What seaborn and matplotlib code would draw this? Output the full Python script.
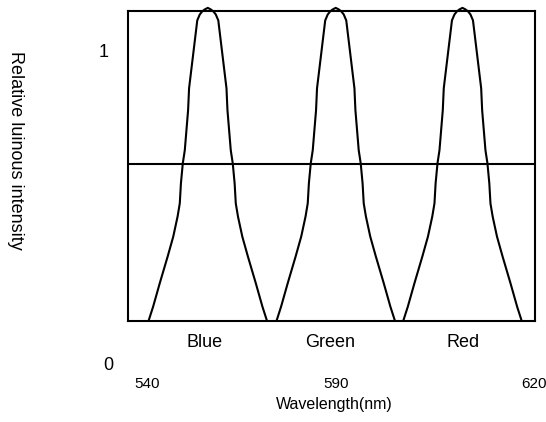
import matplotlib
matplotlib.use("Agg")
import matplotlib.pyplot as plt
import numpy as np
import pandas as pd
import seaborn as sns

# Emission bands: peak centre positions on the horizontal scale (0-100)
bands = ["Blue", "Green", "Red"]
peak_centers = [19.7, 51.1, 82.2]
band_label_pos = [18.8, 49.7, 82.3]

# Shared normalised line shape: relative intensity vs half-width of the band
profile_intensity = [0.0, 0.045, 0.120, 0.205, 0.269, 0.333, 0.375, 0.439, 0.503,
                     0.545, 0.673, 0.743, 0.960, 0.979, 0.989, 0.995, 1.0]
profile_halfwidth = [14.52, 13.41, 11.78, 9.85, 8.47, 7.41, 6.87, 6.59, 6.13,
                     5.64, 4.83, 4.59, 2.58, 1.96, 1.35, 0.74, 0.0]

# Half-maximum reference level
half_max = 0.5

# Wavelength labels and where they sit along the scale
wavelength_labels = ["540", "590", "620"]
wavelength_pos = [4.8, 51.2, 99.8]

# Intensity scale labels
intensity_labels = ["1", "0"]

rows = []
for band, c in zip(bands, peak_centers):
    left = [(c - w, i) for w, i in zip(profile_halfwidth, profile_intensity)]
    right = [(c + w, i) for w, i in zip(profile_halfwidth[::-1][1:], profile_intensity[::-1][1:])]
    for x, y in left + right:
        rows.append({"band": band, "position": x, "intensity": y})
df = pd.DataFrame(rows)

sns.set_style("white")
plt.rcParams["font.family"] = ["Liberation Sans", "DejaVu Sans"]
plt.rcParams["text.color"] = "black"

W, H = 546, 422
fig = plt.figure(figsize=(W / 100, H / 100), dpi=100)
left_px, right_px, top_px, bottom_px = 127.5, 535.0, 11.0, 320.7
ax = fig.add_axes([left_px / W, 1 - bottom_px / H,
                   (right_px - left_px) / W, (bottom_px - top_px) / H])

lw = 1.5
sns.lineplot(data=df, x="position", y="intensity", hue="band",
             palette={b: "black" for b in bands}, sort=False,
             estimator=None, legend=False, linewidth=lw, ax=ax)
for line in ax.get_lines():
    line.set_clip_on(False)
    line.set_solid_joinstyle("round")
ax.axhline(half_max, color="black", linewidth=lw)

ax.set_xlim(0, 100)
ax.set_ylim(0, 0.99)
ax.set_xticks([])
ax.set_yticks([])
ax.set_xlabel("")
ax.set_ylabel("")
for s in ax.spines.values():
    s.set_visible(True)
    s.set_color("black")
    s.set_linewidth(lw)

xt = ax.get_xaxis_transform()
for name, x in zip(bands, band_label_pos):
    ax.text(x, -0.071, name, transform=xt, ha="center", va="center",
            fontsize=13, color="black")
for lab, x in zip(wavelength_labels, wavelength_pos):
    ax.text(x, -0.2044, lab, transform=xt, ha="center", va="center",
            fontsize=11, color="black")

ax.text(50.8, -0.269, "Wavelength(nm)", transform=xt, ha="center", va="center",
        fontsize=11.5, color="black")

ax.text(-0.058, 0.867, intensity_labels[0], transform=ax.transAxes,
        ha="center", va="center", fontsize=13, color="black")
ax.text(-0.047, -0.146, intensity_labels[1], transform=ax.transAxes,
        ha="center", va="center", fontsize=13, color="black")

fig.text(15.8 / W, 1 - 150 / H, "Relative luinous intensity", rotation=270,
         ha="center", va="center", fontsize=13, color="black")

fig.savefig("out.png", dpi=100)
